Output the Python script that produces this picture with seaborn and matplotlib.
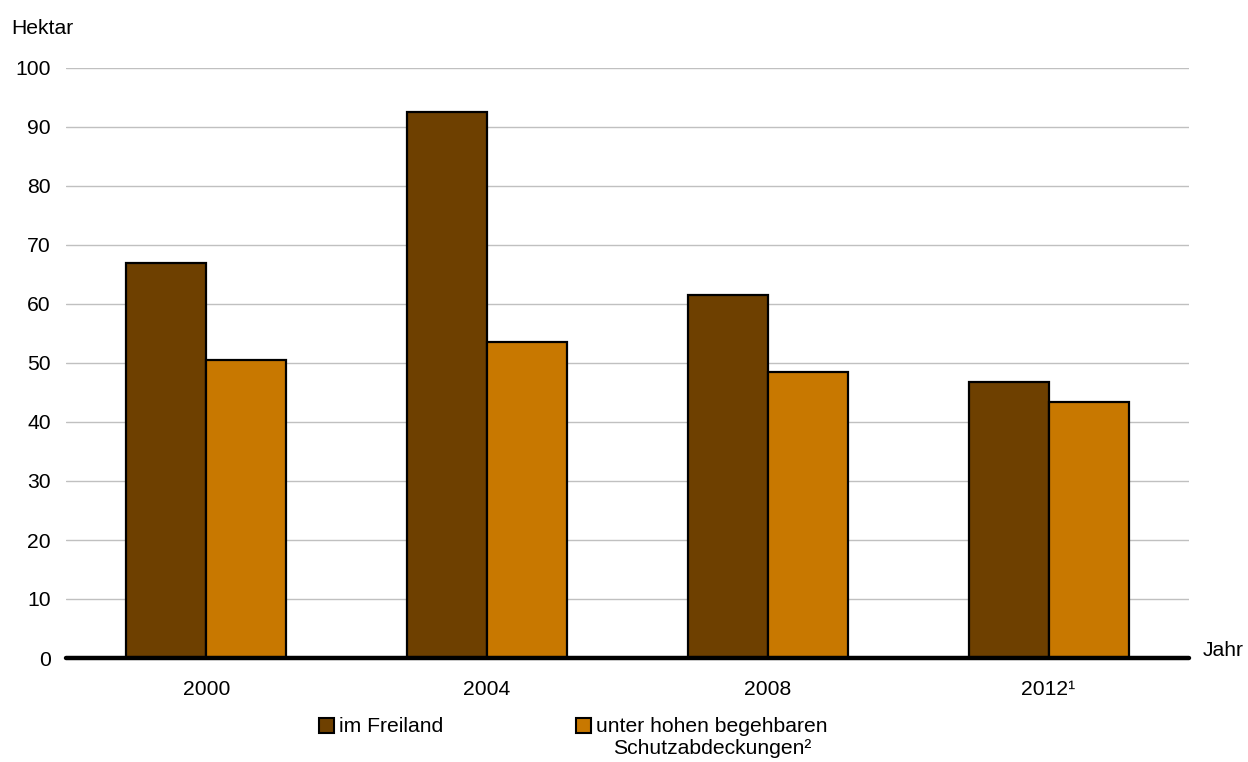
import matplotlib
matplotlib.use("Agg")
import matplotlib.pyplot as plt
from matplotlib.patches import Patch
import pandas as pd
import seaborn as sns

# Data
years = ["2000", "2004", "2008", "2012¹"]
freiland = [67.0, 92.6, 61.5, 46.8]
schutz = [50.5, 53.6, 48.4, 43.4]
series = ["im Freiland", "unter hohen begehbaren"]
series_line2 = "Schutzabdeckungen²"
colors = ["#6E4000", "#C87800"]

df = pd.DataFrame({
    "Jahr": years * 2,
    "Hektar": freiland + schutz,
    "Art": [series[0]] * len(years) + [series[1]] * len(years),
})

sns.set_theme(style="white")
plt.rcParams["font.family"] = ["Liberation Sans", "DejaVu Sans"]
plt.rcParams["text.color"] = "black"
fs = 15.2

fig = plt.figure(figsize=(12.48, 7.62), dpi=100)
ax = fig.add_axes([66 / 1248, 1 - 658 / 762, 1123 / 1248, 590 / 762])

sns.barplot(data=df, x="Jahr", y="Hektar", hue="Art", palette=colors,
            width=0.57, edgecolor="black", linewidth=1.6, saturation=1,
            legend=False, ax=ax, zorder=3)

ax.set_ylim(0, 100)
ax.set_xlim(-0.5, 3.5)
ax.set_yticks(range(0, 101, 10))
ax.yaxis.grid(True, color="#c0c0c0", linewidth=1, zorder=0)
ax.set_axisbelow(True)
for s in ["top", "right", "left"]:
    ax.spines[s].set_visible(False)
ax.spines["bottom"].set_linewidth(3.2)
ax.spines["bottom"].set_color("black")
ax.spines["bottom"].set_capstyle("round")
ax.spines["bottom"].set_zorder(5)
ax.tick_params(axis="both", length=0, labelsize=fs, colors="black")
ax.tick_params(axis="x", pad=16)
ax.tick_params(axis="y", pad=11)
ax.set_xlabel("")
ax.set_ylabel("")

fig.text(11 / 1248, 1 - 28 / 762, "Hektar", fontsize=fs, va="center", ha="left")
fig.text(1203 / 1248, 1 - 650 / 762, "Jahr", fontsize=fs, va="center", ha="left")

handles = [Patch(facecolor=c, edgecolor="black", linewidth=1.5) for c in colors]
leg = fig.legend(handles, series, loc="center left",
                 bbox_to_anchor=(319 / 1248, 1 - 727 / 762), ncol=2,
                 frameon=False, fontsize=fs, handlelength=0.72, handleheight=0.72,
                 handletextpad=0.25, columnspacing=6.25, borderaxespad=0,
                 borderpad=0)

# second line of the second legend entry, centred under the first line
fig.canvas.draw()
bb = leg.get_texts()[1].get_window_extent()
cx = (bb.x0 + bb.x1) / 2 / fig.bbox.width
fig.text(cx, 1 - 748 / 762, series_line2, fontsize=fs, ha="center", va="center")

fig.savefig("out.png", dpi=100)
